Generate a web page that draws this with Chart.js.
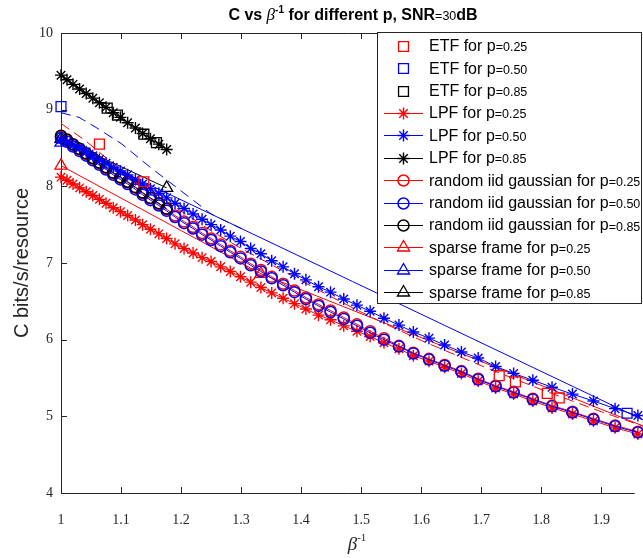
<!DOCTYPE html>
<html><head><meta charset="utf-8">
<script src="https://cdn.jsdelivr.net/npm/chart.js@4.4.1/dist/chart.umd.min.js"></script>
<style>html,body{margin:0;padding:0;background:#fff;overflow:hidden}#wrap{width:643px;height:558px;position:relative}</style>
</head><body><div id="wrap"><canvas id="c" width="643" height="558"></canvas></div>
<script>
// ---- data ----
const BETA_INV = [1.000,1.010,1.020,1.031,1.042,1.053,1.064,1.075,1.087,1.099,1.111,1.124,1.136,1.149,1.163,1.176,1.190,1.205,1.220,1.235,1.250,1.266,1.282,1.299,1.316,1.333,1.351,1.370,1.389,1.408,1.429,1.449,1.471,1.493,1.515,1.538,1.563,1.587,1.613,1.639,1.667,1.695,1.724,1.754,1.786,1.818,1.852,1.887,1.923,1.961];
const BETA_INV_P085 = [1.000,1.010,1.020,1.031,1.042,1.053,1.064,1.075,1.087,1.099,1.111,1.124,1.136,1.149,1.163,1.176];

const LPF_P025 = [8.12,8.08,8.03,7.98,7.93,7.88,7.83,7.78,7.72,7.67,7.62,7.56,7.50,7.44,7.38,7.32,7.25,7.19,7.13,7.07,7.02,6.95,6.89,6.82,6.75,6.68,6.61,6.54,6.47,6.40,6.32,6.26,6.18,6.11,6.04,5.96,5.88,5.79,5.72,5.64,5.56,5.46,5.37,5.29,5.20,5.11,5.03,4.94,4.85,4.77];
const LPF_P050 = [8.61,8.58,8.54,8.50,8.45,8.40,8.35,8.30,8.25,8.20,8.15,8.09,8.03,7.97,7.91,7.85,7.78,7.71,7.64,7.57,7.50,7.43,7.35,7.28,7.19,7.12,7.03,6.95,6.86,6.78,6.69,6.62,6.53,6.45,6.37,6.28,6.19,6.10,6.02,5.93,5.84,5.76,5.65,5.56,5.47,5.38,5.29,5.20,5.10,5.01];
const LPF_P085 = [9.45,9.39,9.33,9.27,9.21,9.15,9.09,9.03,8.96,8.90,8.83,8.76,8.69,8.62,8.55,8.48];

const IID_P025 = [8.65,8.60,8.54,8.48,8.42,8.36,8.30,8.24,8.17,8.11,8.05,7.98,7.91,7.84,7.77,7.70,7.62,7.54,7.47,7.39,7.32,7.24,7.16,7.08,6.99,6.91,6.82,6.73,6.64,6.55,6.46,6.38,6.29,6.20,6.11,6.02,5.92,5.83,5.75,5.67,5.59,5.49,5.40,5.32,5.23,5.14,5.06,4.97,4.88,4.80];
const IID_P050 = [8.63,8.58,8.52,8.46,8.40,8.34,8.28,8.22,8.15,8.09,8.03,7.96,7.89,7.82,7.75,7.68,7.60,7.52,7.45,7.37,7.30,7.22,7.14,7.06,6.97,6.89,6.80,6.71,6.62,6.53,6.44,6.36,6.27,6.18,6.09,6.00,5.91,5.82,5.74,5.66,5.58,5.48,5.39,5.31,5.22,5.13,5.05,4.96,4.87,4.79];
const IID_P085 = [8.66,8.61,8.55,8.49,8.43,8.37,8.31,8.25,8.18,8.12,8.06,7.99,7.92,7.85,7.78,7.71];

const ETF_P025_X = [1.064,1.138,1.730,1.757,1.810,1.830];
const ETF_P025_Y = [8.55,8.06,5.53,5.45,5.30,5.24];
const ETF_P050_X = [1.000,1.943];
const ETF_P050_Y = [9.04,5.04];
const ETF_P085_X = [1.077,1.094,1.138,1.159];
const ETF_P085_Y = [9.02,8.93,8.68,8.57];

const SPARSE_P025_X = [1.000,1.333,2.000];
const SPARSE_P025 = [8.27,6.86,4.78];
const SPARSE_P050_X = [1.000,2.000];
const SPARSE_P050 = [8.57,4.84];
const SPARSE_P085_X = [1.000,1.176];
const SPARSE_P085 = [8.62,7.98];

const DASH_RED_X = [1.00,1.04,1.08,1.15,1.20,1.25,1.30,1.35,1.40,1.45,1.50,1.55,1.60,1.70,1.80,1.90,2.00];
const DASH_RED_Y = [8.82,8.60,8.34,7.94,7.68,7.42,7.19,6.98,6.77,6.56,6.36,6.17,5.99,5.66,5.35,5.06,4.79];
const DASH_BLUE_X = [1.00,1.03,1.06,1.10,1.15,1.20,1.25,1.30];
const DASH_BLUE_Y = [8.96,8.90,8.76,8.56,8.24,7.94,7.64,7.45];

const XTICKS = [1,1.1,1.2,1.3,1.4,1.5,1.6,1.7,1.8,1.9];
const XTICK_LABELS = ['1','1.1','1.2','1.3','1.4','1.5','1.6','1.7','1.8','1.9'];
const YTICKS = [4,5,6,7,8,9,10];
const LEGEND_LABELS = ['ETF for p=0.25','ETF for p=0.50','ETF for p=0.85','LPF for p=0.25','LPF for p=0.50','LPF for p=0.85',
  'random iid gaussian for p=0.25','random iid gaussian for p=0.50','random iid gaussian for p=0.85',
  'sparse frame for p=0.25','sparse frame for p=0.50','sparse frame for p=0.85'];

const RED='#ff0000', BLUE='#0000ff', BLACK='#000000', AXC='#262626';
const pts = (xs, ys) => ys.map((y, i) => ({x: xs[i], y}));

function ds(label, xs, ys, color, style, r, line, order, dash, mw) {
  return {label, data: pts(xs, ys), showLine: line, borderColor: color, borderWidth: 1,
    borderDash: dash || [], pointStyle: style, pointRadius: style ? r : 0, pointHoverRadius: style ? r : 0,
    pointBorderColor: color, pointBackgroundColor: 'rgba(0,0,0,0)', pointBorderWidth: mw || 1.3,
    fill: false, tension: 0, clip: false, order};
}

const datasets = [
  ds(LEGEND_LABELS[0], ETF_P025_X, ETF_P025_Y, RED, 'rect', 7, false, 0),
  ds(LEGEND_LABELS[1], ETF_P050_X, ETF_P050_Y, BLUE, 'rect', 7, false, 0),
  ds(LEGEND_LABELS[2], ETF_P085_X, ETF_P085_Y, BLACK, 'rect', 7, false, 0),
  ds(LEGEND_LABELS[3], BETA_INV, LPF_P025, RED, 'star', 6, true, 6, null, 1.4),
  ds(LEGEND_LABELS[4], BETA_INV, LPF_P050, BLUE, 'star', 6, true, 2, null, 1.4),
  ds(LEGEND_LABELS[5], BETA_INV_P085, LPF_P085, BLACK, 'star', 6, true, 1, null, 1.4),
  ds(LEGEND_LABELS[6], BETA_INV, IID_P025, RED, 'circle', 5.5, true, 5, null, 1.5),
  ds(LEGEND_LABELS[7], BETA_INV, IID_P050, BLUE, 'circle', 5.5, true, 4, null, 1.5),
  ds(LEGEND_LABELS[8], BETA_INV_P085, IID_P085, BLACK, 'circle', 5.5, true, 3, null, 1.5),
  ds(LEGEND_LABELS[9], SPARSE_P025_X, SPARSE_P025, RED, 'triangle', 7, true, 7),
  ds(LEGEND_LABELS[10], SPARSE_P050_X, SPARSE_P050, BLUE, 'triangle', 7, true, 7),
  ds(LEGEND_LABELS[11], SPARSE_P085_X, SPARSE_P085, BLACK, 'triangle', 7, true, 7),
  ds('', DASH_RED_X, DASH_RED_Y, RED, null, 0, true, 8, [10,6]),
  ds('', DASH_BLUE_X, DASH_BLUE_Y, BLUE, null, 0, true, 8, [10,6])
];

function drawMarker(ctx, style, r, x, y) {
  ctx.beginPath();
  if (style === 'rect') { const s = r * Math.SQRT1_2; ctx.rect(x - s, y - s, 2 * s, 2 * s); }
  else if (style === 'circle') { ctx.arc(x, y, r, 0, Math.PI * 2); }
  else if (style === 'triangle') {
    let a = 0;
    ctx.moveTo(x + Math.sin(a) * r, y - Math.cos(a) * r); a += 2 * Math.PI / 3;
    ctx.lineTo(x + Math.sin(a) * r, y - Math.cos(a) * r); a += 2 * Math.PI / 3;
    ctx.lineTo(x + Math.sin(a) * r, y - Math.cos(a) * r); ctx.closePath();
  } else if (style === 'star') {
    const d = r * Math.SQRT1_2;
    ctx.moveTo(x, y - r); ctx.lineTo(x, y + r); ctx.moveTo(x - r, y); ctx.lineTo(x + r, y);
    ctx.moveTo(x - d, y - d); ctx.lineTo(x + d, y + d); ctx.moveTo(x - d, y + d); ctx.lineTo(x + d, y - d);
  }
  ctx.stroke();
}

function drawPieces(ctx, pieces, cx, baseY) {
  let total = 0;
  pieces.forEach(p => { ctx.font = p.f; p.w = ctx.measureText(p.t).width; total += p.w; });
  let x = cx - total / 2;
  ctx.textBaseline = 'alphabetic'; ctx.textAlign = 'left';
  pieces.forEach(p => { ctx.font = p.f; ctx.fillText(p.t, x, baseY + (p.dy || 0)); x += p.w; });
}

const boxPlugin = {
  id: 'matlabBox',
  beforeDatasetsDraw(chart) {
    const {ctx, chartArea: ca, scales} = chart;
    ctx.save();
    ctx.strokeStyle = AXC; ctx.lineWidth = 1;
    ctx.beginPath();
    ctx.moveTo(ca.left + 0.5, ca.top); ctx.lineTo(ca.left + 0.5, ca.bottom + 1);
    ctx.moveTo(ca.left, ca.bottom + 0.5); ctx.lineTo(ca.right, ca.bottom + 0.5);
    ctx.moveTo(ca.left, ca.top + 0.5); ctx.lineTo(ca.right, ca.top + 0.5);
    XTICKS.forEach(v => {
      const px = Math.round(scales.x.getPixelForValue(v)) + 0.5;
      ctx.moveTo(px, ca.bottom); ctx.lineTo(px, ca.bottom - 6);
      ctx.moveTo(px, ca.top); ctx.lineTo(px, ca.top + 6);
    });
    YTICKS.forEach(v => {
      const py = Math.round(scales.y.getPixelForValue(v)) + 0.5;
      ctx.moveTo(ca.left, py); ctx.lineTo(ca.left + 6, py);
    });
    ctx.stroke();
    ctx.restore();
  },
  afterDatasetsDraw(chart) {
    const ctx = chart.ctx;
    ctx.save();
    const L = 377.5, T = 32.5, W = 264, H = 271;
    ctx.fillStyle = '#fff'; ctx.fillRect(L, T, W, H);
    ctx.strokeStyle = AXC; ctx.lineWidth = 1; ctx.strokeRect(L, T, W, H);
    for (let i = 0; i < 12; i++) {
      const d = chart.data.datasets[i];
      const y = 45.7 + i * 22.42;
      ctx.strokeStyle = d.borderColor; ctx.lineWidth = 1; ctx.setLineDash([]);
      if (d.showLine) { ctx.beginPath(); ctx.moveTo(384, Math.round(y) + 0.5); ctx.lineTo(423, Math.round(y) + 0.5); ctx.stroke(); }
      ctx.lineWidth = d.pointBorderWidth;
      drawMarker(ctx, d.pointStyle, d.pointRadius, 403.5, Math.round(y) + 0.5);
      const parts = d.label.split('=');
      ctx.fillStyle = '#000'; ctx.textBaseline = 'middle'; ctx.textAlign = 'left';
      ctx.font = '16px "Liberation Sans", Arial, sans-serif';
      ctx.fillText(parts[0], 429, y + 1);
      const w = ctx.measureText(parts[0]).width;
      ctx.font = '12.5px "Liberation Sans", Arial, sans-serif';
      ctx.fillText('=' + parts[1], 429 + w, y + 2);
    }
    ctx.restore();
  },
  afterDraw(chart) {
    const ctx = chart.ctx;
    ctx.save();
    ctx.fillStyle = '#000';
    drawPieces(ctx, [
      {t: 'C vs ', f: 'bold 16px "Liberation Sans", Arial, sans-serif'},
      {t: '\u03B2', f: 'italic 17px "Liberation Serif", serif'},
      {t: '-1', f: 'bold 10px "Liberation Sans", Arial, sans-serif', dy: -7},
      {t: ' for different p, SNR', f: 'bold 16px "Liberation Sans", Arial, sans-serif'},
      {t: '=30', f: '12.5px "Liberation Sans", Arial, sans-serif'},
      {t: 'dB', f: 'bold 16px "Liberation Sans", Arial, sans-serif'}
    ], 353, 20);
    ctx.fillStyle = AXC;
    drawPieces(ctx, [
      {t: '\u03B2', f: 'italic 19px "Liberation Serif", serif'},
      {t: '-1', f: '11px "Liberation Serif", serif', dy: -9}
    ], 357, 550);
    ctx.restore();
  }
};

new Chart(document.getElementById('c'), {
  type: 'scatter',
  data: {datasets},
  options: {
    responsive: false, animation: false, devicePixelRatio: 1,
    layout: {padding: {top: 33, left: 0, right: 0, bottom: 0}},
    plugins: {legend: {display: false}, tooltip: {enabled: false}, title: {display: false}},
    scales: {
      x: {
        type: 'linear', min: 1, max: 1.9557,
        afterBuildTicks: s => { s.ticks = XTICKS.map(v => ({value: v})); },
        afterFit: s => { s.height = 65; },
        grid: {display: false, drawTicks: false}, border: {display: false},
        ticks: {padding: 19, color: AXC, font: {family: '"Liberation Serif", serif', size: 14},
          callback: (v, i) => XTICK_LABELS[i]}
      },
      y: {
        type: 'linear', min: 4, max: 10,
        afterBuildTicks: s => { s.ticks = YTICKS.map(v => ({value: v})); },
        afterFit: s => { s.width = 61; },
        grid: {display: false, drawTicks: false}, border: {display: false},
        ticks: {padding: 8, color: AXC, font: {family: '"Liberation Serif", serif', size: 14},
          callback: v => String(v)},
        title: {display: true, text: 'C bits/s/resource', color: AXC, padding: {top: 10, bottom: 0},
          font: {family: '"Liberation Sans", Arial, sans-serif', size: 20}}
      }
    }
  },
  plugins: [boxPlugin]
});
</script></body></html>
